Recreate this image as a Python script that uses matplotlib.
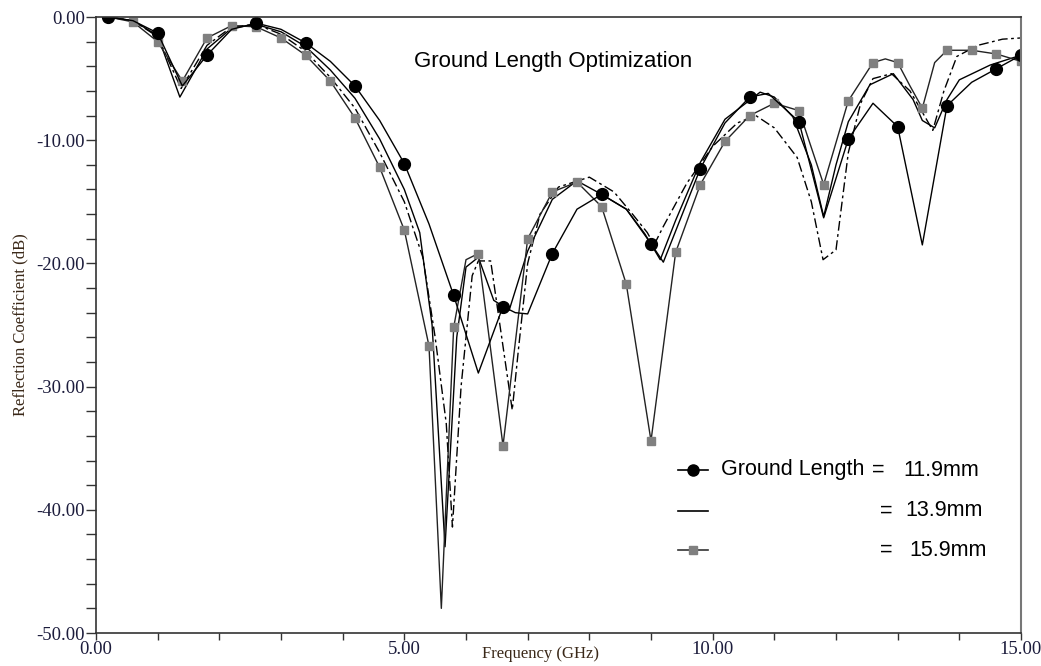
import matplotlib

matplotlib.use("Agg")
import matplotlib.pyplot as plt
import numpy as np
from matplotlib.ticker import MultipleLocator, FormatStrFormatter

# Ground length 11.9 mm (solid, black circles)
freq_119 = [0.2, 0.6, 1.0, 1.4, 1.8, 2.2, 2.6, 3.0, 3.4, 3.8, 4.2, 4.6, 5.0, 5.4, 5.8, 6.2, 6.6, 6.8,
            7.0, 7.4, 7.8, 8.2, 8.6, 9.0, 9.2, 9.8, 10.2, 10.6, 10.9, 11.4, 11.8, 12.2, 12.6, 13.0, 13.4,
            13.8, 14.2, 14.6, 15.0]
s11_119 = [0.0, -0.3, -1.3, -5.6, -3.1, -1.0, -0.5, -1.0, -2.1, -3.6, -5.6, -8.4, -11.9, -16.8, -22.6,
           -28.9, -23.5, -24.0, -24.1, -19.2, -15.6, -14.4, -15.6, -18.4, -19.9, -12.3, -8.6, -6.5, -6.2,
           -8.5, -16.3, -9.9, -7.0, -8.9, -18.5, -7.2, -5.3, -4.2, -3.1]

# Ground length 13.9 mm (solid, no markers)
freq_139 = [0.2, 0.6, 1.0, 1.36, 1.8, 2.2, 2.6, 3.0, 3.4, 3.8, 4.2, 4.6, 5.0, 5.25, 5.45, 5.66, 5.85,
            6.0, 6.2, 6.45, 6.7, 7.0, 7.4, 7.8, 8.2, 8.6, 8.9, 9.15, 9.4, 9.8, 10.2, 10.77, 11.0, 11.3,
            11.6, 11.8, 12.0, 12.2, 12.55, 12.93, 13.25, 13.4, 13.6, 13.8, 14.0, 14.5, 15.0]
s11_139 = [0.0, -0.3, -1.5, -6.5, -2.6, -0.9, -0.6, -1.2, -2.4, -4.3, -6.6, -9.9, -14.0, -17.5, -25.0,
           -43.0, -26.0, -20.3, -19.5, -23.0, -23.8, -19.0, -14.8, -13.3, -14.4, -15.6, -17.6, -19.7,
           -16.5, -11.8, -8.3, -6.1, -6.5, -8.1, -12.0, -16.2, -12.0, -8.5, -5.5, -4.6, -6.7, -8.4, -9.0,
           -6.7, -5.1, -3.9, -3.1]

# Ground length 15.9 mm (solid, grey squares)
freq_159 = [0.2, 0.6, 1.0, 1.4, 1.8, 2.2, 2.6, 3.0, 3.4, 3.8, 4.2, 4.6, 5.0, 5.4, 5.6, 5.8, 6.0, 6.2,
            6.6, 7.0, 7.4, 7.8, 8.2, 8.6, 9.0, 9.4, 9.8, 10.2, 10.6, 11.0, 11.4, 11.8, 12.2, 12.6, 12.8,
            13.0, 13.2, 13.4, 13.6, 13.8, 14.2, 14.6, 15.0]
s11_159 = [0.0, -0.4, -2.0, -5.2, -1.7, -0.7, -0.8, -1.7, -3.1, -5.2, -8.2, -12.2, -17.3, -26.7, -48.0,
           -25.2, -19.7, -19.2, -34.8, -18.0, -14.2, -13.4, -15.4, -21.7, -34.4, -19.1, -13.6, -10.1,
           -8.0, -7.0, -7.6, -13.6, -6.8, -3.7, -3.4, -3.7, -5.6, -7.4, -3.7, -2.7, -2.7, -3.0, -3.6]

# extra dash-dot trace (not in the legend)
freq_dd = [0.2, 0.6, 1.0, 1.38, 1.8, 2.2, 2.6, 3.0, 3.4, 3.8, 4.2, 4.6, 5.0, 5.3, 5.5, 5.68, 5.78, 5.92,
           6.1, 6.2, 6.4, 6.55, 6.75, 6.85, 7.0, 7.2, 7.5, 8.0, 8.4, 8.7, 8.94, 9.05, 9.2, 9.58, 10.0,
           10.4, 10.7, 11.0, 11.37, 11.6, 11.79, 12.0, 12.2, 12.4, 12.6, 12.9, 13.2, 13.57, 13.75, 13.96,
           14.3, 14.7, 15.0]
s11_dd = [0.0, -0.3, -1.6, -5.8, -2.3, -0.8, -0.6, -1.4, -2.8, -4.9, -7.4, -11.0, -15.0, -19.5, -26.0,
          -33.0, -41.4, -30.0, -21.0, -19.8, -19.8, -25.0, -31.9, -27.0, -20.0, -16.0, -13.8, -13.0,
          -14.2, -16.0, -17.5, -18.5, -17.0, -13.5, -10.5, -8.6, -8.0, -9.0, -11.4, -15.0, -19.7, -18.9,
          -11.0, -7.0, -5.0, -4.6, -6.0, -9.2, -6.0, -3.2, -2.3, -1.8, -1.7]

legend_values = ["11.9mm", "13.9mm", "15.9mm"]

TICK_COLOR = "#1c1c3c"
LABEL_COLOR = "#3a2818"
SERIF = "Liberation Serif"
SANS = "Liberation Sans"


def marker_idx(freq, start, step):
    f = np.asarray(freq)
    k = (f - start) / step
    idx = list(np.where(np.isclose(k, np.round(k)))[0])
    if len(f) - 1 not in idx:
        idx.append(len(f) - 1)
    return idx


fig = plt.figure(figsize=(10.41, 6.66), dpi=100)
ax = fig.add_axes([96 / 1041, 33 / 666, 925 / 1041, 616 / 666])

ax.plot(freq_dd, s11_dd, color="black", lw=1.0, dashes=(7, 2.5, 2, 2.5))
ax.plot(freq_139, s11_139, color="black", lw=1.0)
ax.plot(freq_159, s11_159, color="#222222", lw=1.0, marker="s", ms=5.2, mfc="#808080", mec="#808080",
        markevery=marker_idx(freq_159, 0.2, 0.4))
ax.plot(freq_119, s11_119, color="black", lw=1.0, marker="o", ms=8.5, mfc="black", mec="black",
        markevery=marker_idx(freq_119, 0.2, 0.8))

ax.set_xlim(0, 15)
ax.set_ylim(-50, 0)
ax.xaxis.set_major_locator(MultipleLocator(5))
ax.xaxis.set_minor_locator(MultipleLocator(1))
ax.yaxis.set_major_locator(MultipleLocator(10))
ax.yaxis.set_minor_locator(MultipleLocator(2))
ax.xaxis.set_major_formatter(FormatStrFormatter("%.2f"))
ax.yaxis.set_major_formatter(FormatStrFormatter("%.2f"))
ax.tick_params(axis="both", which="both", direction="out", color="#333333", width=1.0,
               labelcolor=TICK_COLOR, labelsize=13.5)
ax.tick_params(axis="y", which="both", length=7, pad=1)
ax.tick_params(axis="x", which="both", length=5, pad=1)
for lab in ax.get_xticklabels() + ax.get_yticklabels():
    lab.set_fontfamily(SERIF)
for side in ["left", "bottom", "top"]:
    ax.spines[side].set_color("#333333")
    ax.spines[side].set_linewidth(1.2)
ax.spines["right"].set_color("#777777")
ax.spines["right"].set_linewidth(1.5)

ax.set_xlabel("Frequency (GHz)", fontsize=12, family=SERIF, color=LABEL_COLOR)
ax.set_ylabel("Reflection Coefficient (dB)", fontsize=12, family=SERIF, color=LABEL_COLOR, labelpad=6)
ax.xaxis.set_label_coords((540 - 96) / 925, -(654 - 633) / 616)
ax.xaxis.label.set_va("center")

ax.text(0.494, 0.927, "Ground Length Optimization", transform=ax.transAxes, ha="center", va="center",
        fontsize=16, family=SANS, color="black")

# hand-made legend, as in the original figure
rows_y = [(633 - 470) / 616, (633 - 511) / 616, (633 - 550) / 616]
hx0, hx1 = (678 - 96) / 925, (708 - 96) / 925
styles = [dict(color="black", marker="o", ms=8, mfc="black", mec="black"),
          dict(color="black"),
          dict(color="#333333", marker="s", ms=5.5, mfc="#808080", mec="#808080")]
for y, st in zip(rows_y, styles):
    ax.plot([hx0, hx1], [y, y], transform=ax.transAxes, lw=1.2, clip_on=False, markevery=[], **st)
    if "marker" in st:
        ax.plot([(hx0 + hx1) / 2], [y], transform=ax.transAxes, lw=0, clip_on=False, **st)
ax.text((864 - 96) / 925, rows_y[0], "Ground Length", transform=ax.transAxes, ha="right", va="center",
        fontsize=15.5, family=SANS)
eq_x = [878, 886, 886]
val_x = [903, 905, 909]
for y, val, ex, vx in zip(rows_y, legend_values, eq_x, val_x):
    ax.text((ex - 96) / 925, y, "=", transform=ax.transAxes, ha="center", va="center",
            fontsize=15.5, family=SANS)
    ax.text((vx - 96) / 925, y, val, transform=ax.transAxes, ha="left", va="center",
            fontsize=15.5, family=SANS)

fig.savefig("out.png", dpi=100)
